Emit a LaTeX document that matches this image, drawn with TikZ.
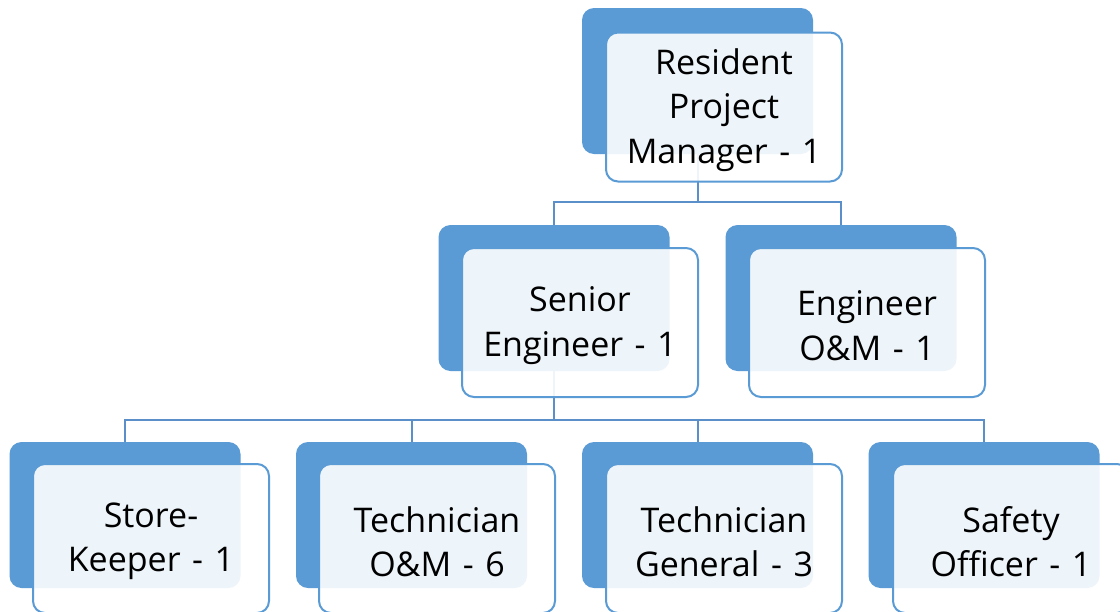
\documentclass[tikz,border=0pt]{standalone}
\usepackage{fontspec}
\setmainfont{Open Sans}
\usetikzlibrary{backgrounds}
\definecolor{accent}{HTML}{5B9BD5}
\definecolor{linec}{HTML}{5B8FC9}
\newcommand{\boxfont}{\fontsize{34pt}{44.5pt}\selectfont\spaceskip=0.34em plus 0.1em\relax}
\begin{document}
\begin{tikzpicture}[x=1pt,y=-1pt,
  backbox/.style={fill=accent, rounded corners=12pt, minimum width=231pt, minimum height=146pt, inner sep=0pt},
  frontbox/.style={draw=accent, line width=2pt, fill=white, fill opacity=0.9, rounded corners=12pt,
     minimum width=236pt, minimum height=149pt, inner sep=0pt},
  boxtext/.style={align=center, inner sep=0pt, yshift=-3pt, font=\boxfont},
  conn/.style={draw=linec, line width=2pt}]
\clip (0,0) rectangle (1120,611);
% back boxes
\node[backbox] (b0) at (697.5,81) {};
\node[backbox] (b1) at (554,298) {};
\node[backbox] (b2) at (841,298) {};
\node[backbox] (b3) at (125,515) {};
\node[backbox] (b4) at (411.5,515) {};
\node[backbox] (b5) at (697.5,515) {};
\node[backbox] (b6) at (984,515) {};
% connectors (behind the boxes)
\begin{scope}[on background layer]
\fill[white] (0,0) rectangle (1120,611);
\draw[conn] (b0.south) -- ++(0,48) -| (b1.north);
\draw[conn] (b0.south) -- ++(0,48) -| (b2.north);
\draw[conn] (b1.south) -- ++(0,49) -| (b3.north);
\draw[conn] (b1.south) -- ++(0,49) -| (b4.north);
\draw[conn] (b1.south) -- ++(0,49) -| (b5.north);
\draw[conn] (b1.south) -- ++(0,49) -| (b6.north);
\end{scope}
% front boxes
\node[frontbox] (f0) at (724,107) {};
\node[frontbox] (f1) at (580,322.5) {};
\node[frontbox] (f2) at (867,322.5) {};
\node[frontbox] (f3) at (151,538.5) {};
\node[frontbox] (f4) at (437,538.5) {};
\node[frontbox] (f5) at (724,538.5) {};
\node[frontbox] (f6) at (1011,538.5) {};
% texts
\node[boxtext] (t0) at (f0) {Resident\\Project\\Manager - 1};
\node[boxtext] (t1) at (f1) {Senior\\Engineer - 1};
\node[boxtext] (t2) at (f2) {Engineer\\O\&M - 1};
\node[boxtext] (t3) at (f3) {Store-\\Keeper - 1};
\node[boxtext] (t4) at (f4) {Technician\\O\&M - 6};
\node[boxtext] (t5) at (f5) {Technician\\General - 3};
\node[boxtext] (t6) at (f6) {Safety\\Officer - 1};
\end{tikzpicture}
\end{document}
